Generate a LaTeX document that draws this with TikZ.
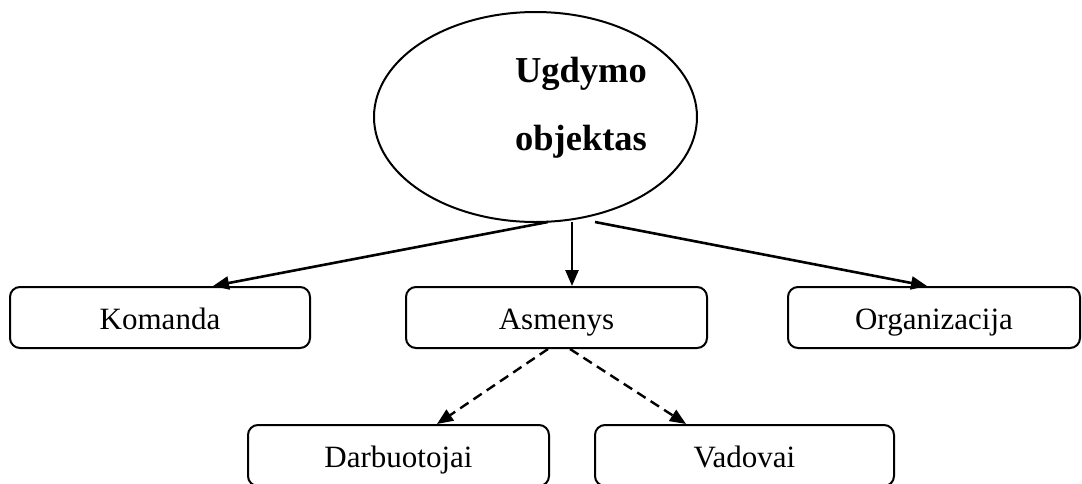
\documentclass[tikz,border=0pt]{standalone}
\usepackage{fontspec}
\setmainfont{Liberation Serif}
\usetikzlibrary{shapes.geometric,arrows.meta}
\begin{document}
\begin{tikzpicture}[x=1pt,y=-1pt,
  line width=2pt,
  itembox/.style={draw,rounded corners=10pt,minimum width=300pt,minimum height=61pt,
    inner sep=0pt,text height=26pt,text depth=3pt,font=\fontsize{31}{31}\selectfont},
  link/.style={line width=2.6pt,-{Triangle[length=16pt,width=13pt]}},
  dashlink/.style={link,line width=2.4pt,dash pattern=on 10pt off 6pt},
  title/.style={font=\fontsize{36.5}{36.5}\selectfont\bfseries,anchor=base,inner sep=0pt}]
\useasboundingbox (0,0) rectangle (1082,483);
\clip (0,0) rectangle (1082,483);
% central ellipse
\node[draw,ellipse,minimum width=323pt,minimum height=210pt,inner sep=0pt] (obj) at (535.5,117) {};
\node[title] (t1) at (581,82) {Ugdymo};
\node[title] (t2) at (581,150) {objektas};
% first level
\node[itembox] (kom) at (160,317.5) {Komanda};
\node[itembox,minimum width=301pt] (asm) at (556.5,317.5) {Asmenys};
\node[itembox,minimum width=292pt] (org) at (934,317.5) {Organizacija};
% second level
\node[itembox,minimum width=301pt] (darb) at (398.5,455.5) {Darbuotojai};
\node[itembox,minimum width=299pt] (vad) at (744.5,455.5) {Vadovai};
% connectors
\draw[link] ([xshift=12.5pt,yshift=1pt]obj.south) -- ([xshift=53pt]kom.north);
\draw[link] ([xshift=36.5pt,yshift=1pt]obj.south) -- ([xshift=15.5pt]asm.north);
\draw[link] ([xshift=59.5pt,yshift=1pt]obj.south) -- ([xshift=-7pt]org.north);
\draw[dashlink] ([xshift=-8.5pt]asm.south) -- ([xshift=38.5pt]darb.north);
\draw[dashlink] ([xshift=13.5pt]asm.south) -- ([xshift=-58.5pt]vad.north);
\end{tikzpicture}
\end{document}
